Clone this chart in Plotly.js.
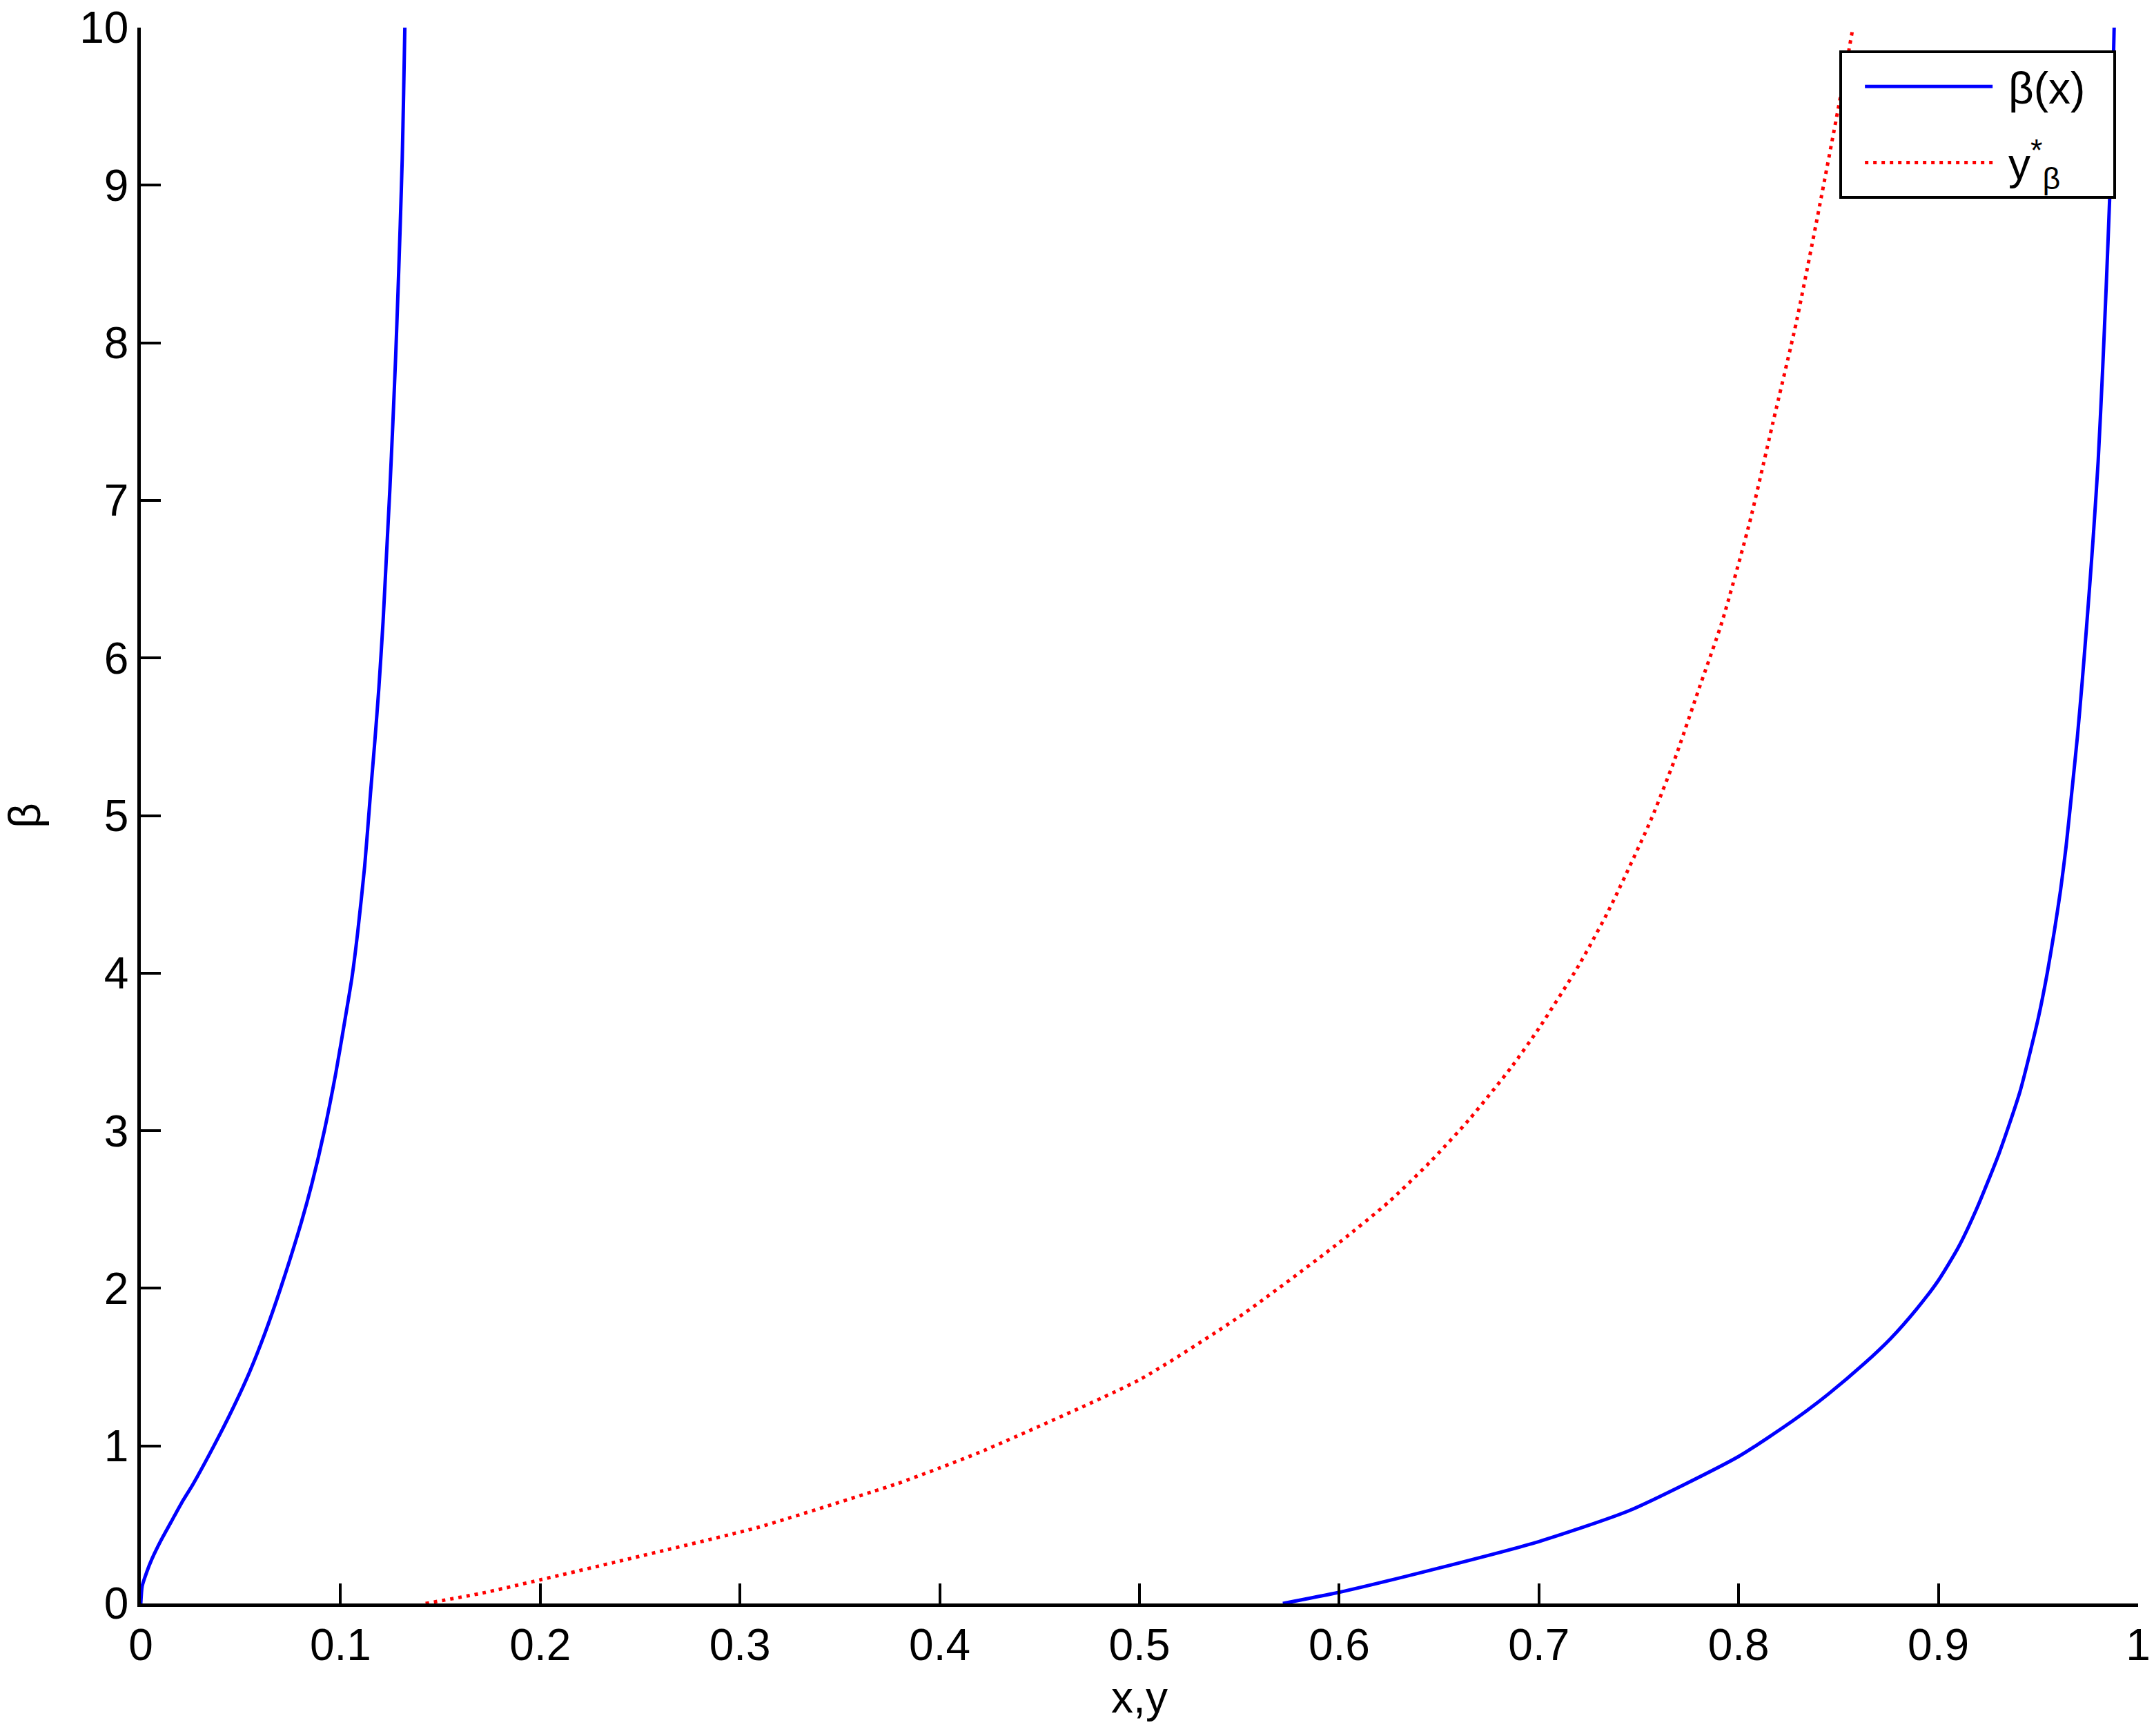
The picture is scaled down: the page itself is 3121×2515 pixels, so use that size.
<!DOCTYPE html>
<html>
<head>
<meta charset="utf-8">
<script src="https://cdn.plot.ly/plotly-3.0.1.min.js"></script>
<style>
  html, body { margin: 0; padding: 0; background: #fff; }
  #plot { width: 3121px; height: 2515px; }
</style>
</head>
<body>
<div id="plot"></div>
<script>
// beta(x): two branches, joined by a gap (null)
let betaLeftX = [0, 0.0007, 0.003, 0.0055, 0.0101, 0.0153, 0.0205, 0.0263, 0.0366, 0.0458, 0.0545, 0.062, 0.070, 0.0804, 0.0856, 0.0919, 0.0977, 0.1023, 0.1057, 0.1086, 0.1121, 0.115, 0.1172, 0.1192, 0.1213, 0.123, 0.1247, 0.1262, 0.1276, 0.1288, 0.1299, 0.1309, 0.1316, 0.1322];
let betaLeftY = [0, 0.11, 0.2, 0.28, 0.40, 0.52, 0.64, 0.76, 1.0, 1.23, 1.47, 1.71, 2.0, 2.42, 2.66, 3.0, 3.37, 3.71, 3.97, 4.26, 4.68, 5.14, 5.475, 5.81, 6.23, 6.65, 7.07, 7.49, 7.91, 8.33, 8.75, 9.17, 9.59, 10];

let betaRightX = [0.5718, 0.6, 0.65, 0.7, 0.7454, 0.8, 0.828, 0.845, 0.8627, 0.876, 0.8892, 0.9, 0.91, 0.919, 0.9305, 0.9409, 0.9501, 0.9545, 0.9581, 0.9612, 0.9639, 0.9668, 0.9696, 0.972, 0.9742, 0.976, 0.9777, 0.980, 0.9823, 0.984, 0.9857, 0.987, 0.988];
let betaRightY = [0, 0.071, 0.225, 0.393, 0.59, 0.933, 1.167, 1.33, 1.52, 1.68, 1.87, 2.05, 2.26, 2.5, 2.86, 3.25, 3.72, 4.0, 4.27, 4.53, 4.8, 5.15, 5.5, 5.85, 6.2, 6.5, 6.8, 7.25, 7.85, 8.35, 8.9, 9.45, 10];

// y*_beta
let yStarX = [0.1426, 0.171, 0.2, 0.25, 0.3096, 0.366, 0.3787, 0.4, 0.422, 0.5, 0.55, 0.6, 0.625, 0.6454, 0.665, 0.686, 0.7, 0.72, 0.735, 0.756, 0.7678, 0.78, 0.7917, 0.8055, 0.8171, 0.8287, 0.8387, 0.8514, 0.8572];
let yStarY = [0, 0.066, 0.15, 0.30, 0.485, 0.708, 0.76, 0.86, 0.97, 1.42, 1.82, 2.29, 2.55, 2.8, 3.07, 3.40, 3.65, 4.05, 4.4, 4.97, 5.35, 5.8, 6.23, 6.86, 7.49, 8.12, 8.75, 9.59, 10];

let xTicks = [0, 0.1, 0.2, 0.3, 0.4, 0.5, 0.6, 0.7, 0.8, 0.9, 1];
let xTickText = ["0", "0.1", "0.2", "0.3", "0.4", "0.5", "0.6", "0.7", "0.8", "0.9", "1"];
let yTicks = [0, 1, 2, 3, 4, 5, 6, 7, 8, 9, 10];

let nb = '\u00A0';

let betaTrace = {
    x: betaLeftX.concat([null], betaRightX),
    y: betaLeftY.concat([null], betaRightY),
    mode: 'lines',
    name: nb + 'β(x)' + nb + nb,
    legendgroup: 'a',
    connectgaps: false,
    line: { color: '#0000ff', width: 5, shape: 'spline', smoothing: 0.6 }
};

let yStarTrace = {
    x: yStarX,
    y: yStarY,
    mode: 'lines',
    name: nb + 'y<sup>*</sup><sub>β</sub>',
    legendgroup: 'b',
    line: { color: '#ff0000', width: 5, dash: '5px,7px', shape: 'spline', smoothing: 0.6 }
};

let fontFam = 'Liberation Sans, Arial, sans-serif';

let axisCommon = {
    showgrid: false,
    zeroline: false,
    showline: true,
    linecolor: '#000',
    linewidth: 4.5,
    ticks: 'inside',
    ticklen: 29,
    tickwidth: 4,
    tickcolor: '#000',
    mirror: false,
    tickfont: { family: fontFam, size: 64, color: '#000' }
};

let layout = {
    width: 3121,
    height: 2515,
    margin: { l: 204, r: 23, t: 40, b: 192 },
    paper_bgcolor: '#fff',
    plot_bgcolor: '#fff',
    font: { family: fontFam, size: 64, color: '#000' },
    showlegend: true,
    xaxis: Object.assign({}, axisCommon, {
        range: [0, 1],
        tickvals: xTicks,
        ticktext: xTickText,
        title: { text: 'x,y', font: { size: 64 }, standoff: 20 }
    }),
    yaxis: Object.assign({}, axisCommon, {
        range: [0, 10],
        tickvals: yTicks,
        title: { text: 'β', font: { size: 64 }, standoff: 40 }
    }),
    legend: {
        x: 0.989,
        y: 0.9855,
        xanchor: 'right',
        yanchor: 'top',
        bgcolor: '#fff',
        bordercolor: '#000',
        borderwidth: 4,
        itemwidth: 185,
        indentation: 28,
        tracegroupgap: 24,
        font: { family: fontFam, size: 64, color: '#000' }
    }
};

Plotly.newPlot('plot', [betaTrace, yStarTrace], layout, { displayModeBar: false });
</script>
</body>
</html>
